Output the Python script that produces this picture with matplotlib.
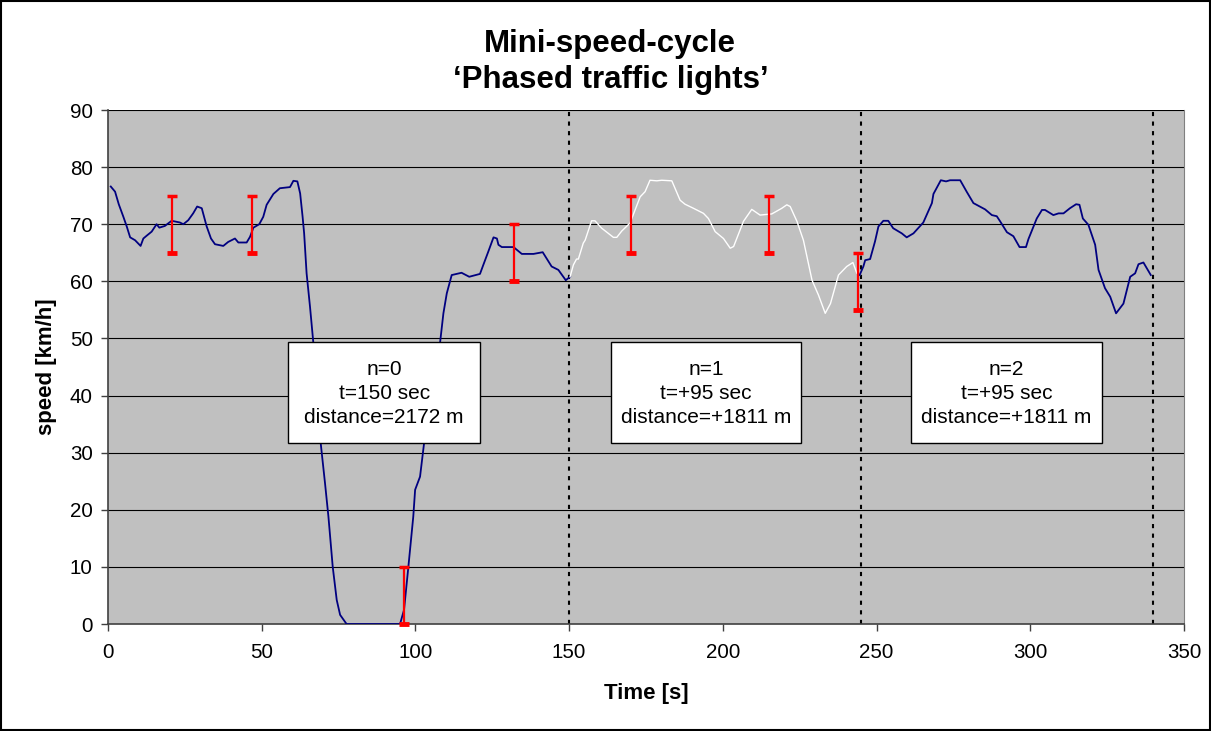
import matplotlib
matplotlib.use("Agg")
import matplotlib.pyplot as plt
from matplotlib.patches import Rectangle

plt.rcParams['font.family'] = ['Liberation Sans', 'DejaVu Sans']

# ---- data ----
t_cycle0 = [0.9, 2.3, 3.5, 5.0, 6.1, 7.2, 8.8, 10.6, 11.5, 12.6, 14.2, 15.8, 16.7, 18.5, 20.7,
            23.4, 24.5, 26.1, 27.7, 29.0, 30.5, 32.1, 33.5, 34.8, 37.5, 39.1, 41.3, 42.4, 45.1,
            46.2, 47.3, 49.2, 50.5, 51.6, 53.8, 55.9, 59.2, 60.3, 61.6, 62.5, 63.3, 63.8, 64.6,
            65.7, 66.8, 69.2, 70.6, 71.7, 73.1, 74.4, 75.5, 77.6, 95.0, 96.3, 97.7, 99.3, 99.9,
            101.5, 102.8, 108.0, 109.1, 110.2, 111.8, 115.0, 117.5, 121.0, 122.1, 123.7, 125.4,
            126.5, 127.0, 128.1, 131.9, 134.6, 138.4, 141.4, 144.3, 146.5, 148.9, 150.3]
v_cycle0 = [76.6, 75.7, 73.5, 71.3, 69.6, 67.7, 67.2, 66.2, 67.5, 68.0, 68.7, 70.0, 69.4, 69.7, 70.6,
            70.3, 70.0, 70.7, 71.9, 73.1, 72.8, 69.6, 67.5, 66.5, 66.2, 66.9, 67.5, 66.8, 66.8,
            67.8, 69.4, 70.0, 71.3, 73.4, 75.3, 76.3, 76.5, 77.6, 77.5, 75.4, 71.3, 68.4, 61.4,
            55.6, 49.2, 31.6, 24.6, 18.8, 10.0, 4.2, 1.6, 0.0, 0.0, 2.5, 10.0, 18.8, 23.5,
            25.8, 31.6, 49.2, 54.4, 57.9, 61.1, 61.5, 60.8, 61.3, 62.9, 65.2, 67.7,
            67.5, 66.4, 66.0, 66.0, 64.8, 64.8, 65.1, 62.6, 62.0, 60.2, 60.8]

t_cycle1 = [150.3, 151.4, 152.4, 153.0, 154.6, 155.2, 157.3, 158.4, 160.6, 164.4, 165.5, 167.1,
            169.8, 173.1, 174.7, 176.3, 178.5, 180.1, 183.4, 186.1, 187.7, 190.4, 193.7, 195.3,
            197.5, 200.2, 202.4, 203.5, 206.7, 209.4, 212.1, 215.9, 219.2, 220.8, 221.9, 224.1,
            226.2, 229.0, 231.1, 233.3, 235.0, 237.6, 240.3, 242.3, 243.6, 244.5]
v_cycle1 = [60.8, 62.9, 63.9, 63.9, 66.7, 67.2, 70.6, 70.6, 69.3, 67.7, 67.7, 68.8,
            70.2, 74.8, 75.7, 77.7, 77.6, 77.7, 77.6, 74.2, 73.5, 72.8, 71.9, 71.0,
            68.7, 67.5, 65.8, 66.1, 70.5, 72.6, 71.6, 71.8, 72.8, 73.4, 73.1, 70.5,
            67.2, 60.2, 57.6, 54.4, 56.1, 61.1, 62.6, 63.3, 61.4, 61.1]

t_cycle2 = [244.5, 245.7, 246.3, 247.9, 249.5, 250.6, 252.2, 253.8, 255.4, 258.2, 259.8, 262.0,
            265.2, 268.0, 268.5, 270.9, 272.6, 273.9, 277.2, 279.3, 281.5, 285.3, 287.5, 289.1,
            290.2, 292.4, 294.5, 296.5, 298.6, 299.4, 302.1, 303.8, 304.8, 307.5, 309.2, 310.8,
            312.9, 314.9, 316.0, 317.1, 318.9, 321.1, 322.2, 324.3, 326.0, 327.9, 330.3, 332.5,
            334.1, 335.2, 336.8, 339.2]
v_cycle2 = [61.1, 62.6, 63.7, 63.9, 67.0, 69.6, 70.6, 70.6, 69.3, 68.4, 67.7, 68.4,
            70.3, 73.7, 75.3, 77.7, 77.5, 77.7, 77.7, 75.7, 73.7, 72.6, 71.6, 71.4,
            70.5, 68.6, 67.9, 66.0, 66.0, 67.4, 71.0, 72.5, 72.5, 71.6, 71.9, 71.9,
            72.8, 73.5, 73.4, 71.0, 69.9, 66.4, 62.0, 58.8, 57.3, 54.4, 56.1, 60.8,
            61.4, 63.0, 63.3, 61.1]

# traffic-light windows (red bars)
light_t = [20.7, 46.7, 96.3, 132.2, 170.0, 215.1, 243.9]
light_low = [65, 65, 0, 60, 65, 65, 55]
light_high = [75, 75, 10, 70, 75, 75, 65]

# cycle boundaries
boundaries = [150, 245, 340]

# annotation boxes
box_labels = ["n=0\nt=150 sec\ndistance=2172 m",
              "n=1\nt=+95 sec\ndistance=+1811 m",
              "n=2\nt=+95 sec\ndistance=+1811 m"]
box_x0 = [58.7, 163.5, 261.1]
box_x1 = [121.0, 225.5, 323.3]

x_ticks = [0, 50, 100, 150, 200, 250, 300, 350]
y_ticks = [0, 10, 20, 30, 40, 50, 60, 70, 80, 90]

# ---- figure ----
fig = plt.figure(figsize=(12.11, 7.31), dpi=100)
fig.patch.set_facecolor('white')
ax = fig.add_axes([108/1211, 1-624/731, (1184-108)/1211, (624-110)/731])
ax.set_facecolor('#C0C0C0')
ax.set_xlim(0, 350)
ax.set_ylim(0, 90)

for y in y_ticks[1:]:
    ax.axhline(y, color='black', lw=0.8, zorder=1)

ax.plot(t_cycle0, v_cycle0, color='#000080', lw=1.3, zorder=3)
ax.plot(t_cycle1, v_cycle1, color='white', lw=1.0, zorder=3)
ax.plot(t_cycle2, v_cycle2, color='#000080', lw=1.3, zorder=3)

for b in boundaries:
    ax.axvline(b, color='black', lw=1.5, linestyle=(0, (2, 2.6)), zorder=2)

ax.vlines(light_t, light_low, light_high, color='#FF0000', lw=1.6, zorder=4)
ax.plot(light_t, light_high, linestyle='none', marker='_', color='#FF0000',
        markersize=7, markeredgewidth=2.5, zorder=5, clip_on=False)
ax.plot(light_t, light_low, linestyle='none', marker='_', color='#FF0000',
        markersize=7, markeredgewidth=3.5, zorder=5, clip_on=False)

for lab, x0, x1 in zip(box_labels, box_x0, box_x1):
    ax.add_patch(Rectangle((x0, 31.7), x1 - x0, 17.6, facecolor='white',
                           edgecolor='black', lw=1.0, zorder=6))
    ax.text((x0 + x1) / 2, 40.4, lab, ha='center', va='center', fontsize=15,
            linespacing=1.33, zorder=7)

ax.set_xticks(x_ticks)
ax.set_yticks(y_ticks)
ax.tick_params(direction='out', length=5, width=1, colors='#404040',
               labelcolor='black', labelsize=14.8)
ax.tick_params(axis='x', pad=9)
ax.tick_params(axis='y', pad=6)

for s in ['left', 'bottom']:
    ax.spines[s].set_color('#404040')
    ax.spines[s].set_linewidth(1.2)
ax.spines['top'].set_visible(False)
ax.spines['right'].set_color('#808080')
ax.spines['right'].set_linewidth(0.8)

ax.set_xlabel('Time [s]', fontsize=16, fontweight='bold', labelpad=15)
ax.set_ylabel('speed [km/h]', fontsize=16, fontweight='bold', labelpad=9)

fig.text(0.504, 1-44/731, 'Mini-speed-cycle', ha='center', va='center',
         fontsize=22.5, fontweight='bold')
fig.text(0.504, 1-80/731, '\u2018Phased traffic lights\u2019', ha='center', va='center',
         fontsize=22.5, fontweight='bold')

fig.add_artist(Rectangle((0.001, 0.001), 0.998, 0.997, transform=fig.transFigure,
                         fill=False, edgecolor='black', lw=1.5))

fig.savefig('out.png', dpi=100)
